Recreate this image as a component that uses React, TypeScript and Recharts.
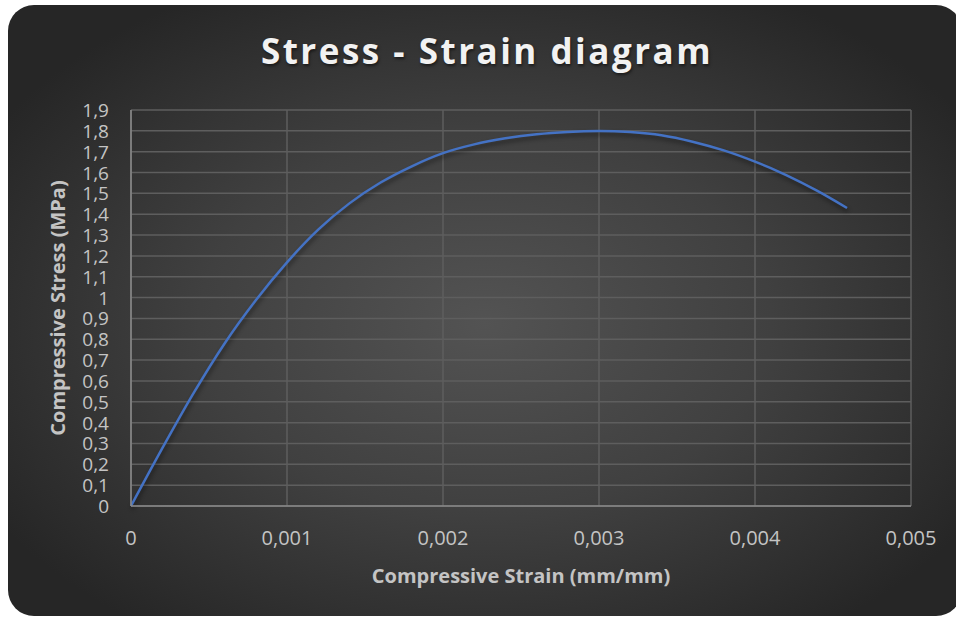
import React from "react";
import { CartesianGrid, Line, LineChart, XAxis, YAxis } from "recharts";

// compressive strain (mm/mm) and matching stress (MPa)
const strain = [
  0, 0.0002, 0.0004, 0.0006, 0.0008, 0.001, 0.0012, 0.0014, 0.0016, 0.0018,
  0.002, 0.0022, 0.0024, 0.0026, 0.0028, 0.003, 0.0032, 0.0034, 0.0036, 0.0038,
  0.004, 0.0042, 0.0044, 0.00459,
];
const stress = [
  0, 0.276, 0.54, 0.78, 0.987, 1.169, 1.326, 1.452, 1.552, 1.63,
  1.693, 1.735, 1.764, 1.784, 1.795, 1.799, 1.794, 1.779, 1.748, 1.706,
  1.652, 1.588, 1.512, 1.43,
];

const xTicks = [0, 0.001, 0.002, 0.003, 0.004, 0.005];
const yTicks = [
  0, 0.1, 0.2, 0.3, 0.4, 0.5, 0.6, 0.7, 0.8, 0.9,
  1, 1.1, 1.2, 1.3, 1.4, 1.5, 1.6, 1.7, 1.8, 1.9,
];

const data = strain.map((s, i) => ({ strain: s, stress: stress[i] }));

const labelColor = "#c4c4c4";
const gridStroke = "#5e5e5e";
const axisStroke = "#8a8a8a";
const font = "'Open Sans', sans-serif";

const fmt = (v: number) => String(v).replace(".", ",");

const XTick = (props: any) => {
  const { x, y, payload } = props;
  return (
    <text x={x} y={y + 31} textAnchor="middle" dominantBaseline="central" fill={labelColor} fontSize={20} fontFamily={font}>
      {fmt(payload.value)}
    </text>
  );
};

const YTick = (props: any) => {
  const { x, y, payload } = props;
  return (
    <text x={x - 22} y={y} textAnchor="end" dominantBaseline="central" fill={labelColor} fontSize={19} fontFamily={font}>
      {fmt(payload.value)}
    </text>
  );
};

export default function App() {
  return (
    <div style={{ position: "fixed", inset: 0, background: "#ffffff", overflow: "hidden" }}>
      <div
        style={{
          position: "absolute",
          left: 8,
          top: 5,
          width: 954,
          height: 611,
          borderRadius: 26,
          background: "radial-gradient(ellipse 60% 62% at 50% 52%, #535353 0%, #404040 50%, #262626 100%)",
        }}
      />
      <div
        style={{
          position: "absolute",
          left: 0,
          width: 974,
          top: 27,
          textAlign: "center",
          color: "#f2f2f2",
          fontFamily: font,
          fontWeight: 700,
          fontSize: 35,
          letterSpacing: 2.5,
          textShadow: "1px 2px 3px rgba(0,0,0,0.5)",
        }}
      >
        Stress - Strain diagram
      </div>
      <div style={{ position: "absolute", left: 0, top: 0 }}>
        <LineChart width={956} height={619} data={data} margin={{ top: 110, right: 45, bottom: 53, left: 0 }}>
          <CartesianGrid stroke={gridStroke} strokeWidth={1.5} />
          <XAxis
            dataKey="strain"
            type="number"
            domain={[0, 0.005]}
            ticks={xTicks}
            tick={<XTick />}
            tickLine={false}
            tickSize={0}
            tickMargin={0}
            axisLine={{ stroke: axisStroke, strokeWidth: 1.5 }}
            interval={0}
            height={60}
          />
          <YAxis
            type="number"
            domain={[0, 1.9]}
            ticks={yTicks}
            tick={<YTick />}
            tickLine={false}
            tickSize={0}
            tickMargin={0}
            axisLine={{ stroke: axisStroke, strokeWidth: 1.5 }}
            interval={0}
            width={131}
          />
          <Line
            type="monotone"
            dataKey="stress"
            stroke="#4472c4"
            strokeWidth={2.5}
            dot={false}
            isAnimationActive={false}
            style={{ filter: "drop-shadow(1px 3px 2px rgba(0,0,0,0.45))" }}
          />
          <text x={521} y={575} textAnchor="middle" dominantBaseline="central" fill={labelColor} fontSize={20} fontWeight={700} fontFamily={font}>
            Compressive Strain (mm/mm)
          </text>
          <text
            x={57}
            y={308}
            textAnchor="middle"
            dominantBaseline="central"
            fill={labelColor}
            fontSize={20}
            fontWeight={700}
            fontFamily={font}
            transform="rotate(-90 57 308)"
          >
            Compressive Stress (MPa)
          </text>
        </LineChart>
      </div>
    </div>
  );
}
